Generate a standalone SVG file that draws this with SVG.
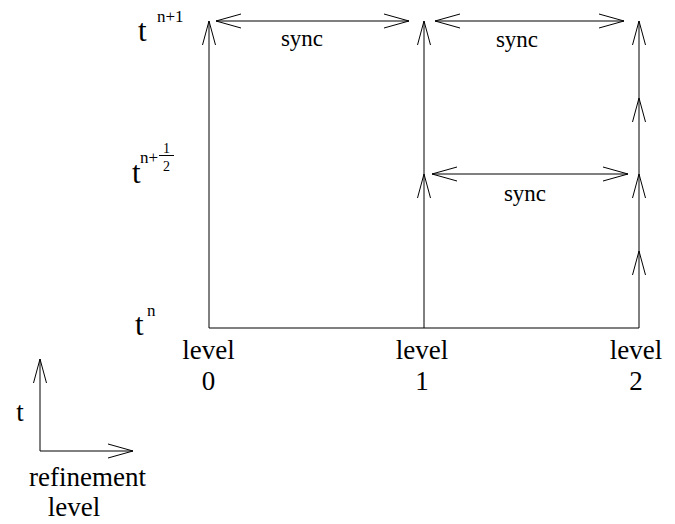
<svg xmlns="http://www.w3.org/2000/svg" width="675" height="524" viewBox="0 0 675 524">
<style>
.ln{stroke:#000;stroke-width:1;fill:none}
.hd{stroke:#000;stroke-width:1;fill:none}
text{font-family:"Liberation Serif","Times New Roman",serif;fill:#000}
.lbl{font-size:27px;text-anchor:middle}
.sync{font-size:23px;text-anchor:middle}
.t{font-size:31px}
.sup{font-size:17px}
.frac{font-size:14px}
</style>
<rect width="675" height="524" fill="#fff"/>
<g id="connectors">
  <path class="ln" d="M209,328 H639"/>
  <path class="ln" d="M209,328 V21"/>
  <path class="hd" d="M202.5,45 L209,21 L215.5,45"/>
  <path class="ln" d="M424,328 V21"/>
  <path class="hd" d="M417.5,45 L424,21 L430.5,45"/>
  <path class="hd" d="M417.5,198 L424,174 L430.5,198"/>
  <path class="ln" d="M639,328 V21"/>
  <path class="hd" d="M632.5,45 L639,21 L645.5,45"/>
  <path class="hd" d="M632.5,122 L639,98 L645.5,122"/>
  <path class="hd" d="M632.5,198 L639,174 L645.5,198"/>
  <path class="hd" d="M632.5,275 L639,251 L645.5,275"/>
  <g id="sync1">
    <path class="ln" d="M216,21 H409"/>
    <path class="hd" d="M241,14 L216,21 L241,28 M384,14 L409,21 L384,28"/>
  </g>
  <g id="sync2">
    <path class="ln" d="M435,21 H624"/>
    <path class="hd" d="M460,14 L435,21 L460,28 M599,14 L624,21 L599,28"/>
  </g>
  <g id="sync3">
    <path class="ln" d="M432,174 H628"/>
    <path class="hd" d="M457,167 L432,174 L457,181 M603,167 L628,174 L603,181"/>
  </g>
  <g id="legend-axes">
    <path class="ln" d="M40,451 V359"/>
    <path class="hd" d="M33.5,383 L40,359 L46.5,383"/>
    <path class="ln" d="M40,451 H133"/>
    <path class="hd" d="M108,444 L133,451 L108,458"/>
  </g>
</g>
<g id="sync-labels">
  <text class="sync" x="302" y="46">sync</text>
  <text class="sync" x="517" y="47">sync</text>
  <text class="sync" x="525" y="201">sync</text>
</g>
<g id="time-labels">
  <g id="t-n1"><text class="t" x="138" y="41">t</text><text class="sup" x="157" y="22">n+1</text></g>
  <g id="t-nhalf">
    <text class="t" x="132" y="183">t</text>
    <text class="sup" x="140" y="163">n+</text>
    <text class="frac" x="163" y="153">1</text>
    <path class="ln" d="M159,155.5 H174"/>
    <text class="frac" x="163" y="171">2</text>
  </g>
  <g id="t-n"><text class="t" x="135" y="335">t</text><text class="sup" x="147" y="316">n</text></g>
</g>
<g id="level0"><text class="lbl" x="208.5" y="359">level</text><text class="lbl" x="208.5" y="390">0</text></g>
<g id="level1"><text class="lbl" x="422" y="359">level</text><text class="lbl" x="422" y="390">1</text></g>
<g id="level2"><text class="lbl" x="636" y="359">level</text><text class="lbl" x="636" y="390">2</text></g>
<g id="legend">
  <text class="lbl" x="20" y="421">t</text>
  <text class="lbl" x="87.5" y="486">refinement</text>
  <text class="lbl" x="74" y="516">level</text>
</g>
</svg>
